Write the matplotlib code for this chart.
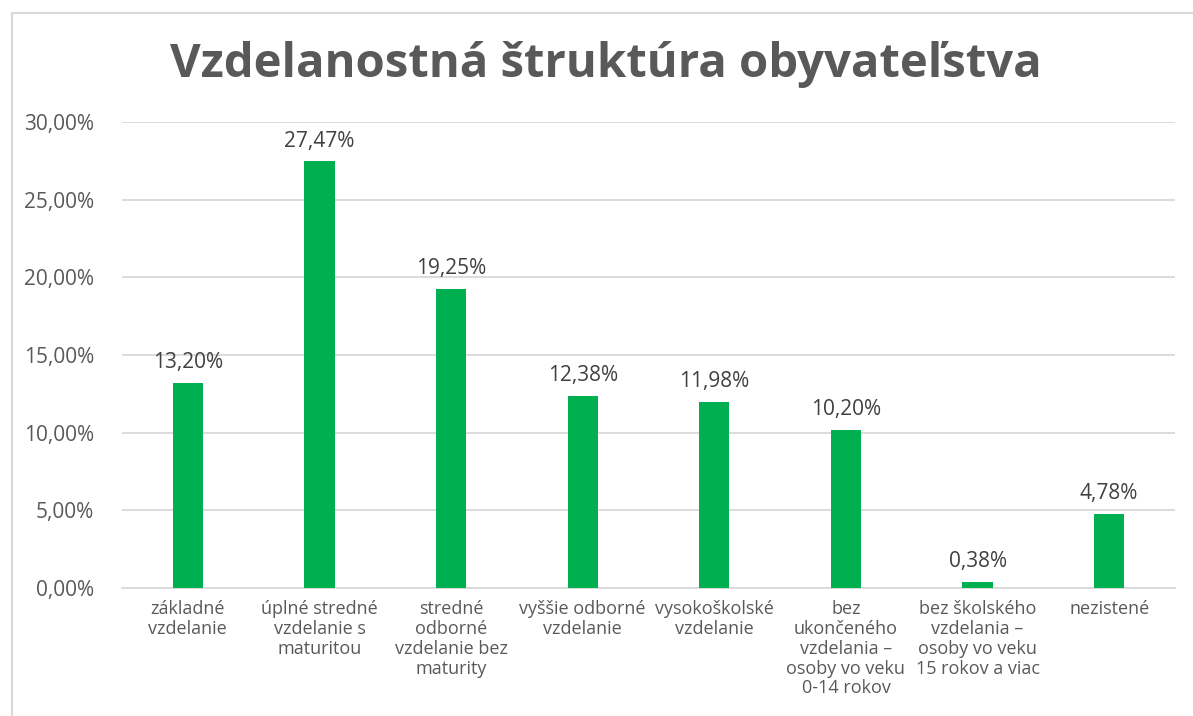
import matplotlib
matplotlib.use("Agg")
import matplotlib.pyplot as plt
from matplotlib.patches import Rectangle
from matplotlib.ticker import FuncFormatter

categories = [
    "základné\nvzdelanie",
    "úplné stredné\nvzdelanie s\nmaturitou",
    "stredné\nodborné\nvzdelanie bez\nmaturity",
    "vyššie odborné\nvzdelanie",
    "vysokoškolské\nvzdelanie",
    "bez\nukončeného\nvzdelania –\nosoby vo veku\n0-14 rokov",
    "bez školského\nvzdelania –\nosoby vo veku\n15 rokov a viac",
    "nezistené",
]
values = [13.20, 27.47, 19.25, 12.38, 11.98, 10.20, 0.38, 4.78]
yticks = [0, 5, 10, 15, 20, 25, 30]

plt.rcParams['font.family'] = ['Open Sans', 'DejaVu Sans']
fig = plt.figure(figsize=(11.93, 7.16), dpi=100)
fig.patches.append(Rectangle((12/1193, -0.1), 1.2, (716-13)/716 + 0.1, transform=fig.transFigure,
                             fill=False, edgecolor='#d9d9d9', linewidth=1.5))

ax = fig.add_axes([122/1193, (716-588)/716, (1175-122)/1193, (588-122)/716])
x = list(range(len(values)))
ax.bar(x, values, width=0.23, color='#00b050', zorder=3)
ax.set_xlim(-0.5, len(values) - 0.5)
ax.set_ylim(0, 30)
ax.set_yticks(yticks)
ax.yaxis.set_major_formatter(FuncFormatter(lambda v, p: f"{v:.2f}".replace('.', ',') + "%"))
ax.grid(axis='y', color='#d9d9d9', linewidth=1.3, zorder=0)
for s in ['top', 'right', 'left']:
    ax.spines[s].set_visible(False)
ax.spines['bottom'].set_color('#d9d9d9')
ax.spines['bottom'].set_linewidth(1.3)
ax.tick_params(axis='both', length=0, colors='#595959')
ax.tick_params(axis='y', labelsize=15, pad=20)
ax.set_xticks(x)
ax.set_xticklabels(categories, fontsize=13, linespacing=1.12)
ax.tick_params(axis='x', pad=9)
for xi, v in zip(x, values):
    ax.annotate(f"{v:.2f}".replace('.', ',') + "%", (xi, v), xytext=(0, 7), textcoords='offset points',
                ha='center', va='bottom', fontsize=15, color='#404040')

fig.text(606/1193, 1 - 64/716, "Vzdelanostná štruktúra obyvateľstva", ha='center', va='center',
         fontsize=34, fontweight='bold', color='#595959')

fig.savefig("out.png", dpi=100)
